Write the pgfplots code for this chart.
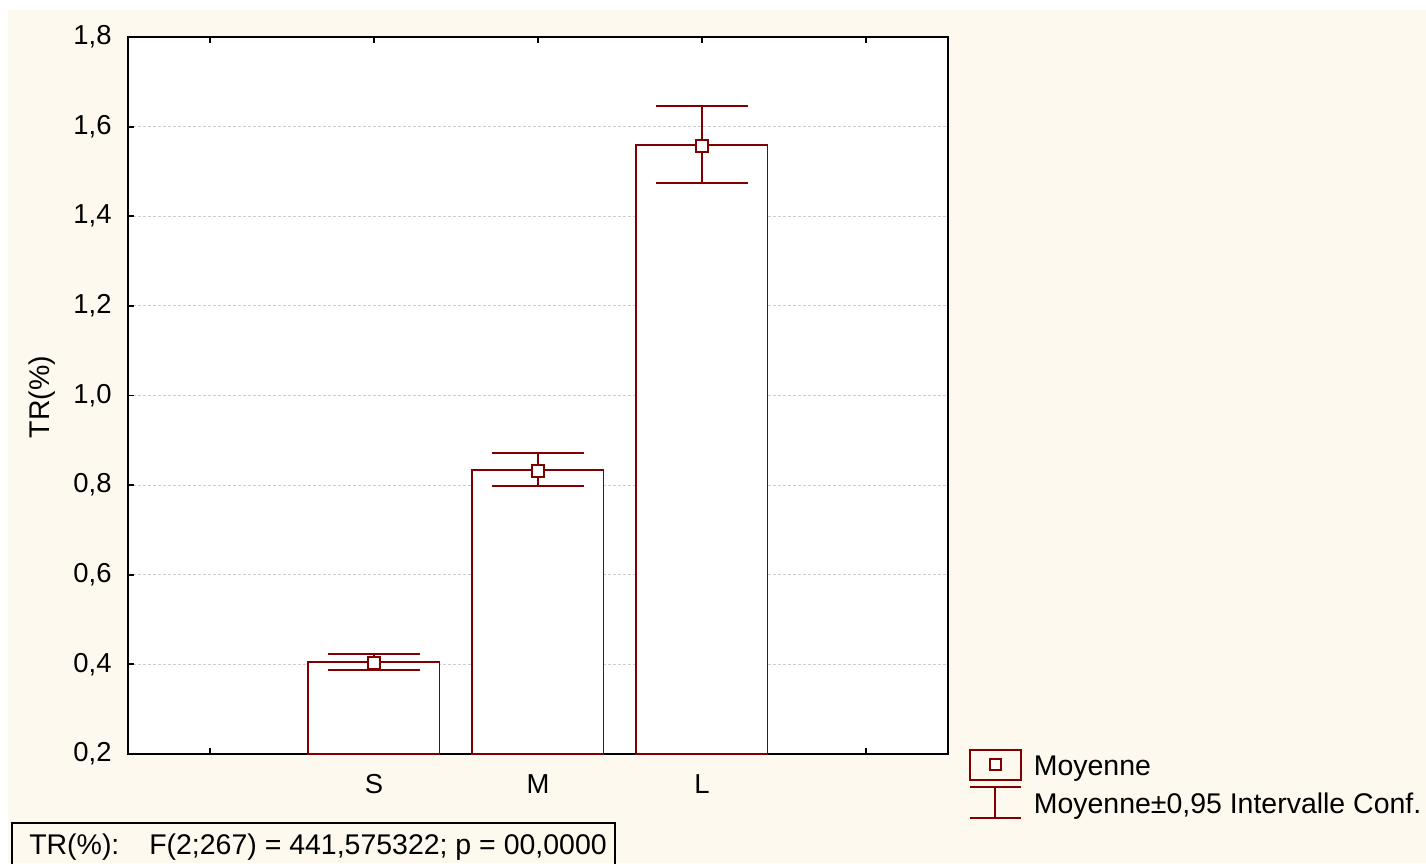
\documentclass[border=0pt]{standalone}
\usepackage{fontspec}
\setmainfont{Liberation Sans}
\usepackage{pgfplots}
\pgfplotsset{compat=1.18}
\definecolor{cream}{HTML}{FDF9EE}
\definecolor{dred}{HTML}{800000}
\newcommand{\cf}{\fontsize{7.8}{9.4}\selectfont}
\newcommand{\lf}{\fontsize{8.1}{9.4}\selectfont}
\begin{document}
\begin{tikzpicture}[x=1cm,y=1cm]
\useasboundingbox (0,0) rectangle (14.26,8.63);
\fill[white] (0,0) rectangle (14.26,8.63);
\fill[cream] (0.08,0) rectangle (14.26,8.53);
\begin{axis}[
  at={(1.28cm,1.09cm)}, anchor=south west,
  scale only axis, width=8.2cm, height=7.17cm,
  xmin=-1.5, xmax=3.5, ymin=0.2, ymax=1.8,
  axis background/.style={fill=white},
  xtick={-1,0,1,2,3}, xticklabels={,S,M,L,},
  ytick={0.2,0.4,0.6,0.8,1.0,1.2,1.4,1.6,1.8},
  yticklabel style={/pgf/number format/use comma, /pgf/number format/fixed,
    /pgf/number format/fixed zerofill, /pgf/number format/precision=1, xshift=-0.04cm},
  /pgf/number format/assume math mode=true,
  tick label style={font=\cf, text=black},
  xticklabel style={yshift=-0.08cm},
  xtick pos=both, ytick pos=left,
  tick align=inside,
  major tick length=0.06cm,
  tick style={black, line width=0.018cm},
  axis line style={black, line width=0.022cm},
  ymajorgrids,
  grid style={gray!40, line width=0.008cm, dash pattern=on 0.03cm off 0.02cm},
  ylabel={TR(\%)},
  ylabel style={font=\lf, at={(axis description cs:-0.105,0.498)}, anchor=center},
  legend style={draw=none, fill=none, at={(1.0245,0.0084)}, anchor=north west, font=\lf,
    row sep=-0.02cm, inner sep=0pt},
  legend cell align=left,
  /tikz/every odd column/.append style={column sep=0.05cm},
  clip=true,
]
\addplot[ybar, bar width=0.8, fill=white, draw=dred, line width=0.018cm, forget plot]
  coordinates {(0,0.405) (1,0.834) (2,1.559)};
\addplot[only marks, mark=square*, mark size=0.06cm, forget plot,
  mark options={fill=white, draw=dred, line width=0.025cm},
  error bars/.cd, y dir=both, y explicit,
  error bar style={dred, line width=0.018cm},
  error mark options={rotate=90, dred, line width=0.018cm, mark size=0.46cm}]
  coordinates {
    (0,0.403) += (0,0.020) -= (0,0.0155)
    (1,0.832) += (0,0.040) -= (0,0.034)
    (2,1.557) += (0,0.089) -= (0,0.083)
  };
\addlegendimage{legend image code/.code={
  \draw[dred, line width=0.02cm] (0cm,-0.115cm) rectangle (0.51cm,0.185cm);
  \draw[dred, line width=0.025cm, fill=white] (0.2cm,-0.02cm) rectangle (0.31cm,0.09cm);
}}
\addlegendentry{Moyenne}
\addlegendimage{legend image code/.code={
  \draw[dred, line width=0.02cm] (0cm,0.19cm) -- (0.51cm,0.19cm)
    (0cm,-0.12cm) -- (0.51cm,-0.12cm) (0.255cm,0.19cm) -- (0.255cm,-0.12cm);
}}
\addlegendentry{Moyenne±0,95 Intervalle Conf.}
\end{axis}
\draw[black, line width=0.02cm] (0.12,-0.1) rectangle (6.15,0.40);
\node[font=\lf, anchor=center] at (3.18,0.155) {TR(\%):\hspace{1.05em}F(2;267) = 441,575322; p = 00,0000};
\end{tikzpicture}
\end{document}
